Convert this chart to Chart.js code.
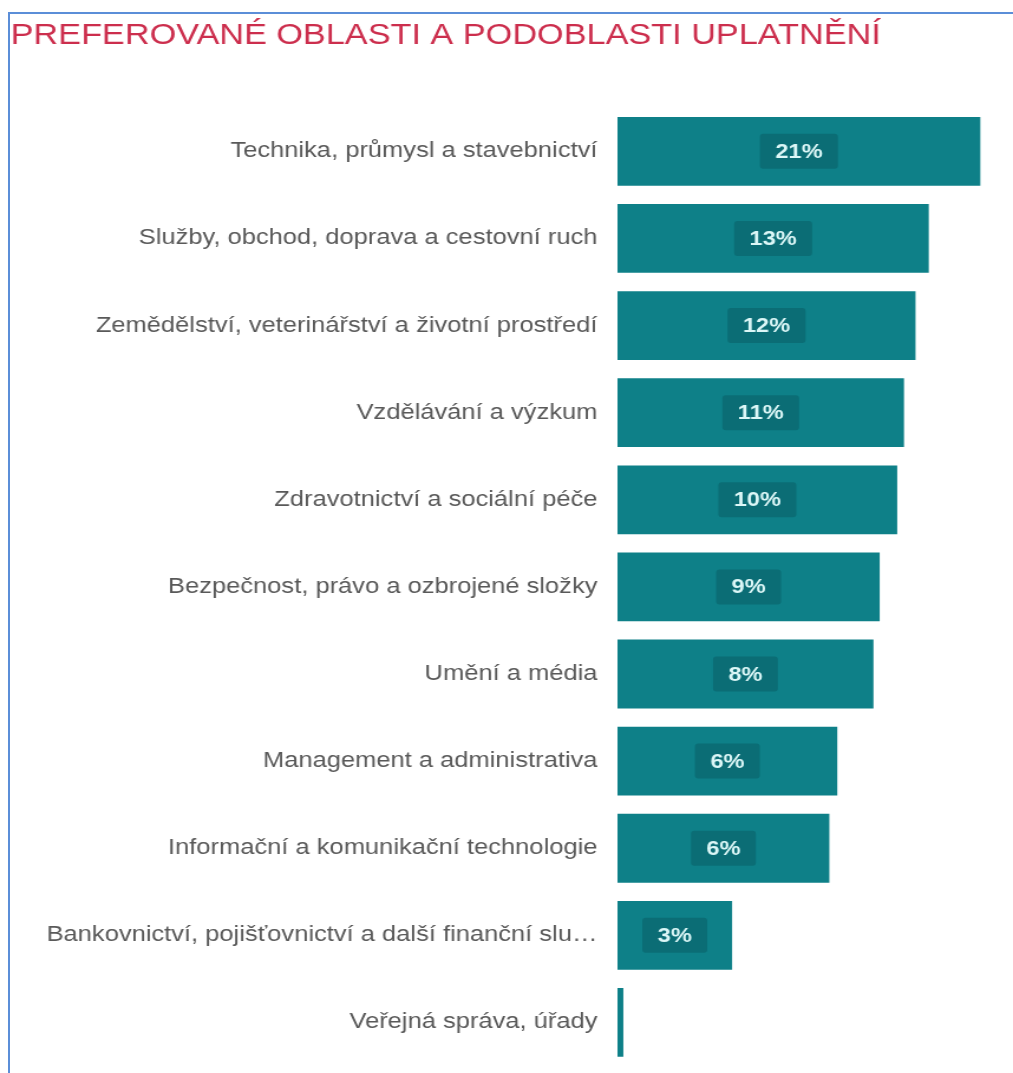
<!DOCTYPE html>
<html>
<head>
<meta charset="utf-8">
<script src="https://cdn.jsdelivr.net/npm/chart.js@4.4.1/dist/chart.umd.min.js"></script>
<style>
  html, body { margin: 0; padding: 0; background: #fff; overflow: hidden; }
  #ramecek { position: absolute; left: 8px; top: 12px; width: 2000px; height: 2000px;
             border-left: 2px solid #5b8ed8; border-top: 2px solid #5b8ed8; }
  #graf { position: absolute; left: 0; top: 0; }
</style>
</head>
<body>
<div id="ramecek"></div>
<!-- screenshot is stretched horizontally, so the canvas is drawn narrower and widened by css -->
<canvas id="graf" width="858" height="1073" style="width:1013px;height:1073px"></canvas>
<script>
var oblasti = [
  'Technika, průmysl a stavebnictví',
  'Služby, obchod, doprava a cestovní ruch',
  'Zemědělství, veterinářství a životní prostředí',
  'Vzdělávání a výzkum',
  'Zdravotnictví a sociální péče',
  'Bezpečnost, právo a ozbrojené složky',
  'Umění a média',
  'Management a administrativa',
  'Informační a komunikační technologie',
  'Bankovnictví, pojišťovnictví a další finanční služby',
  'Veřejná správa, úřady'
];
// podíl v % (odhad z obrázku)
var podily = [20.6, 13.4, 12.0, 10.9, 10.3, 8.9, 8.45, 6.25, 5.85, 2.6, 1.05];

var barva = '#0e8088';
var barvaStitku = '#0b6d75';

// stitky s procenty uprostred sloupcu
var stitky = {
  id: 'stitky',
  afterDatasetsDraw: function(chart) {
    var ctx = chart.ctx;
    var meta = chart.getDatasetMeta(0);
    ctx.save();
    ctx.font = 'bold 20px "Liberation Sans", Arial, sans-serif';
    ctx.textAlign = 'center';
    ctx.textBaseline = 'middle';
    meta.data.forEach(function(bar, i) {
      var txt = Math.round(podily[i]) + '%';
      var w = ctx.measureText(txt).width + 26;
      var h = 35;
      var sirka = Math.abs(bar.x - bar.base);
      if (sirka < w + 6) return;
      var cx = (bar.x + bar.base) / 2;
      ctx.fillStyle = barvaStitku;
      ctx.beginPath();
      ctx.roundRect(cx - w / 2, bar.y - h / 2, w, h, 3);
      ctx.fill();
      ctx.fillStyle = '#dcf7f7';
      ctx.fillText(txt, cx, bar.y + 1);
    });
    ctx.restore();
  }
};

var ctx = document.getElementById('graf').getContext('2d');
var graf = new Chart(ctx, {
  type: 'bar',
  data: {
    labels: oblasti,
    datasets: [{
      data: podily,
      backgroundColor: barva,
      borderWidth: 0,
      barPercentage: 0.79,
      categoryPercentage: 1
    }]
  },
  options: {
    indexAxis: 'y',
    responsive: false,
    devicePixelRatio: 1,
    animation: false,
    layout: { padding: { left: 9, right: 8, top: 0, bottom: 7 } },
    scales: {
      x: {
        type: 'logarithmic',
        min: 1,
        max: 25,
        display: false
      },
      y: {
        grid: { display: false, drawTicks: false },
        border: { display: false },
        ticks: {
          padding: 17,
          color: '#595959',
          font: { family: '"Liberation Sans", Arial, sans-serif', size: 21.6 },
          callback: function(value) {
            var t = this.getLabelForValue(value);
            return t.length > 50 ? t.slice(0, 49) + '…' : t;
          }
        },
        afterFit: function(scale) {
          scale.width = 514;
          scale.paddingTop = 0;
          scale.paddingBottom = 0;
        }
      }
    },
    plugins: {
      legend: { display: false },
      tooltip: { enabled: false },
      title: {
        display: true,
        text: 'PREFEROVANÉ OBLASTI A PODOBLASTI UPLATNĚNÍ',
        align: 'start',
        color: '#cc2e4d',
        font: { family: '"Liberation Sans", Arial, sans-serif', size: 29, weight: 'normal' },
        padding: { top: 19, bottom: 54 }
      }
    }
  },
  plugins: [stitky]
});
</script>
</body>
</html>
